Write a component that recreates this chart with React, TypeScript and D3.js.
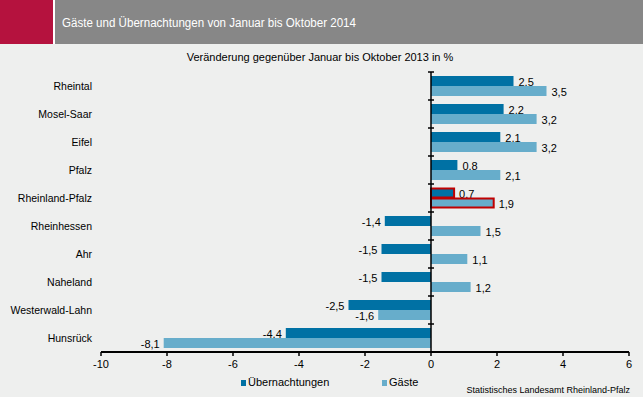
import React, { useEffect, useRef } from 'react'
import * as d3 from 'd3'

const regions = [
  'Rheintal',
  'Mosel-Saar',
  'Eifel',
  'Pfalz',
  'Rheinland-Pfalz',
  'Rheinhessen',
  'Ahr',
  'Naheland',
  'Westerwald-Lahn',
  'Hunsrück',
]
const uebernachtungen = [2.5, 2.2, 2.1, 0.8, 0.7, -1.4, -1.5, -1.5, -2.5, -4.4]
const gaeste = [3.5, 3.2, 3.2, 2.1, 1.9, 1.5, 1.1, 1.2, -1.6, -8.1]
const xTicks = [-10, -8, -6, -4, -2, 0, 2, 4, 6]
const highlight = 'Rheinland-Pfalz'

const DARK = '#0071a4'
const LIGHT = '#67adcb'
const BG = '#eeefee'

const fmt = (v: number) => v.toFixed(1).replace('.', ',')

const App: React.FC = () => {
  const ref = useRef<HTMLDivElement>(null)

  useEffect(() => {
    if (!ref.current) return
    const width = 643
    const height = 397
    const font = '"Liberation Sans", Arial, sans-serif'

    const svg = d3
      .select(ref.current)
      .append('svg')
      .attr('width', width)
      .attr('height', height)
      .style('display', 'block')
      .style('font-family', font)

    svg.append('rect').attr('width', width).attr('height', height).attr('fill', BG)

    // header
    svg.append('rect').attr('width', width).attr('height', 44).attr('fill', '#ffffff')
    svg.append('rect').attr('width', 53).attr('height', 44).attr('fill', '#b5123e')
    svg.append('rect').attr('x', 55).attr('width', width - 55).attr('height', 44).attr('fill', '#878787')
    svg
      .append('text')
      .attr('x', 62)
      .attr('y', 27)
      .attr('fill', '#ffffff')
      .attr('font-size', '12.5px')
      .attr('textLength', 294)
      .attr('lengthAdjust', 'spacingAndGlyphs')
      .text('Gäste und Übernachtungen von Januar bis Oktober 2014')

    svg
      .append('text')
      .attr('x', 320)
      .attr('y', 61)
      .attr('text-anchor', 'middle')
      .attr('font-size', '11px')
      .attr('fill', '#000')
      .text('Veränderung gegenüber Januar bis Oktober 2013 in %')

    const x = d3.scaleLinear().domain([-10, 6]).range([101, 629])
    const y = d3.scaleBand().domain(regions).range([72, 352]).paddingInner(0)
    const barH = 10
    const pad = (y.bandwidth() - barH * 2) / 2

    // bars
    const series = [
      { values: uebernachtungen, color: DARK, off: pad },
      { values: gaeste, color: LIGHT, off: pad + barH },
    ]
    series.forEach(s => {
      regions.forEach((r, i) => {
        const v = s.values[i]
        const y0 = (y(r) as number) + s.off
        const hl = r === highlight
        svg
          .append('rect')
          .attr('x', Math.min(x(0), x(v)))
          .attr('y', y0 + (hl ? 0.5 : 0))
          .attr('width', Math.abs(x(v) - x(0)))
          .attr('height', barH - (hl ? 1 : 0))
          .attr('fill', s.color)
          .attr('stroke', hl ? '#c00000' : 'none')
          .attr('stroke-width', hl ? 2 : 0)
        svg
          .append('text')
          .attr('x', v >= 0 ? x(v) + 5 : x(v) - 4)
          .attr('y', y0 + barH - 0.5)
          .attr('text-anchor', v >= 0 ? 'start' : 'end')
          .attr('font-size', '11px')
          .attr('fill', '#000')
          .text(fmt(v))
      })
    })

    // category labels
    regions.forEach(r => {
      svg
        .append('text')
        .attr('x', 92)
        .attr('y', (y(r) as number) + y.bandwidth() / 2 + 4)
        .attr('text-anchor', 'end')
        .attr('font-size', '10.5px')
        .attr('fill', '#000')
        .text(r)
    })

    // vertical axis at 0
    svg
      .append('line')
      .attr('x1', x(0))
      .attr('x2', x(0))
      .attr('y1', 72)
      .attr('y2', 352)
      .attr('stroke', '#000')
      .attr('stroke-width', 1.5)
    const bounds = regions.map(r => y(r) as number).concat([352])
    bounds.forEach(b => {
      svg
        .append('line')
        .attr('x1', x(0) - 3)
        .attr('x2', x(0) + 3)
        .attr('y1', b)
        .attr('y2', b)
        .attr('stroke', '#000')
        .attr('stroke-width', 1.5)
    })

    // horizontal axis
    const axisY = 352
    svg
      .append('line')
      .attr('x1', x(-10))
      .attr('x2', x(6))
      .attr('y1', axisY)
      .attr('y2', axisY)
      .attr('stroke', '#000')
      .attr('stroke-width', 2)
    xTicks.forEach(t => {
      svg
        .append('line')
        .attr('x1', x(t))
        .attr('x2', x(t))
        .attr('y1', axisY)
        .attr('y2', axisY + 4)
        .attr('stroke', '#000')
        .attr('stroke-width', 1.5)
      svg
        .append('text')
        .attr('x', x(t))
        .attr('y', axisY + 16)
        .attr('text-anchor', 'middle')
        .attr('font-size', '11px')
        .attr('fill', '#000')
        .text(String(t))
    })

    // legend
    const legend = [
      { label: 'Übernachtungen', color: DARK, x: 241 },
      { label: 'Gäste', color: LIGHT, x: 382 },
    ]
    legend.forEach(l => {
      svg.append('rect').attr('x', l.x).attr('y', 380).attr('width', 5).attr('height', 6).attr('fill', l.color)
      svg
        .append('text')
        .attr('x', l.x + 7)
        .attr('y', 386)
        .attr('font-size', '11px')
        .attr('fill', '#000')
        .text(l.label)
    })

    svg
      .append('text')
      .attr('x', 630)
      .attr('y', 393)
      .attr('text-anchor', 'end')
      .attr('font-size', '9px')
      .attr('fill', '#000')
      .text('Statistisches Landesamt Rheinland-Pfalz')

    return () => {
      svg.remove()
    }
  }, [])

  return <div ref={ref} style={{ position: 'absolute', left: 0, top: 0, width: 643, height: 397 }} />
}

export default App
